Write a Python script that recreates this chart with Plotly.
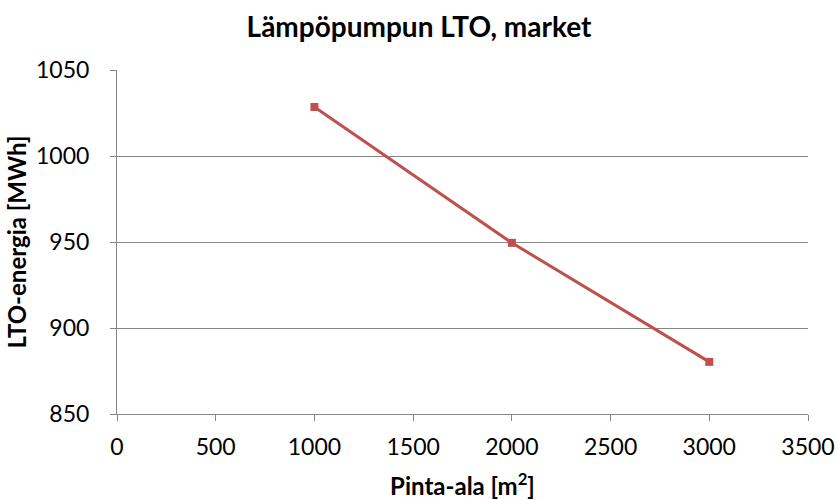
import plotly.graph_objects as go

area = [1000, 2000, 3000]
energy = [1028.5, 949.5, 880.3]
x_ticks = [0, 500, 1000, 1500, 2000, 2500, 3000, 3500]
y_ticks = [850, 900, 950, 1000, 1050]

font_fam = "Lato, Open Sans, sans-serif"

fig = go.Figure()
fig.add_trace(go.Scatter(
    x=area, y=energy, mode="lines+markers",
    line=dict(color="#C0504D", width=3),
    marker=dict(symbol="square", size=8, color="#C0504D"),
    showlegend=False,
))

W, H = 838, 500
fig.update_layout(
    width=W, height=H,
    paper_bgcolor="white", plot_bgcolor="white",
    margin=dict(l=117, r=30, t=70, b=86, autoexpand=False),
    title=dict(text="<b>Lämpöpumpun LTO, market</b>", x=419 / W, xref="container",
               y=1 - 27 / H, yref="container", xanchor="center", yanchor="middle",
               font=dict(family=font_fam, size=28, color="black")),
    font=dict(family=font_fam, size=23, color="black"),
)
fig.update_xaxes(
    range=[0, 3500], tickvals=x_ticks, showgrid=False,
    showline=True, linecolor="#868686", linewidth=1,
    ticks="outside", ticklen=6, tickcolor="#868686",
    ticklabelstandoff=6, ticklabeloverflow="allow",
    zeroline=False,
    title=dict(text="<b>Pinta-ala [m<sup>2</sup>]</b>", font=dict(size=24), standoff=20),
)
fig.update_yaxes(
    range=[850, 1050], tickvals=y_ticks, showgrid=True, gridcolor="#868686", gridwidth=1,
    showline=True, linecolor="#868686", linewidth=1,
    ticks="outside", ticklen=6, tickcolor="#868686",
    ticklabelstandoff=16,
    zeroline=False,
    title=dict(text="<b>LTO-energia [MWh]</b>", font=dict(size=24), standoff=2),
)

fig.write_html(
    "out.html",
    config={"displayModeBar": False},
    post_script="document.body.style.margin='0';document.body.style.overflow='hidden';",
)
